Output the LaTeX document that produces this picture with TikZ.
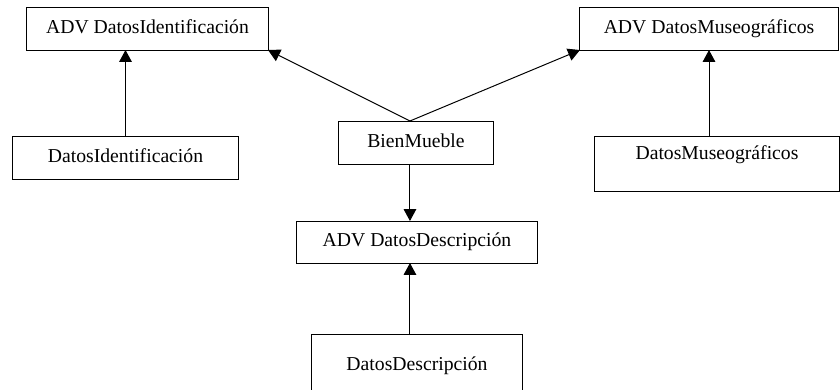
\documentclass[tikz,border=0pt]{standalone}
\usepackage{fontspec}
\setmainfont{Liberation Serif}
\usetikzlibrary{arrows.meta}

\begin{document}
\begin{tikzpicture}[x=0.025cm, y=-0.025cm,
        caja/.style={draw, line width=0.7pt, inner sep=0pt, outer sep=0pt, minimum height=1.075cm, text height=10pt, text depth=3pt, font=\fontsize{14}{16}\selectfont},
        flecha/.style={line width=0.7pt, -{Triangle[length=8.5pt, width=9pt]}}]
    \useasboundingbox (0, 0) rectangle (840, 389);
    % cajas de arriba
    \node[caja, minimum width=6.025cm] (advid) at (147.5, 28.5) {ADV DatosIdentificación};
    \node[caja, minimum width=6.45cm] (advmus) at (709, 28.5) {ADV DatosMuseográficos};
    % fila del medio
    \node[caja, minimum width=5.625cm] (datid) at (125.5, 157.5) {DatosIdentificación};
    \node[caja, minimum width=3.85cm] (bien) at (416, 142.5) {BienMueble};
    \node[caja, minimum width=6.1cm, minimum height=1.375cm, text depth=15pt] (datmus) at (717, 163.5) {DatosMuseográficos};
    % abajo
    \node[caja, minimum width=6cm, minimum height=1.05cm] (advdesc) at (417, 242) {ADV DatosDescripción};
    \node[caja, minimum width=5.275cm, minimum height=1.6cm] (datdesc) at (417, 366) {DatosDescripción};
    \coordinate (ejeA) at ([xshift=-4.3pt]bien.north);
    \coordinate (ejeB) at ([xshift=-4.3pt]bien.south);
    % flechas
    \draw[flecha] (datid.north) -- (datid.north |- advid.south);
    \draw[flecha] (ejeA) -- (advid.south east);
    \draw[flecha] (ejeA) -- (advmus.south west);
    \draw[flecha] (advmus.south |- datmus.north) -- (advmus.south);
    \draw[flecha] (ejeB) -- (ejeB |- advdesc.north);
    \draw[flecha] (ejeB |- datdesc.north) -- (ejeB |- advdesc.south);
\end{tikzpicture}
\end{document}
